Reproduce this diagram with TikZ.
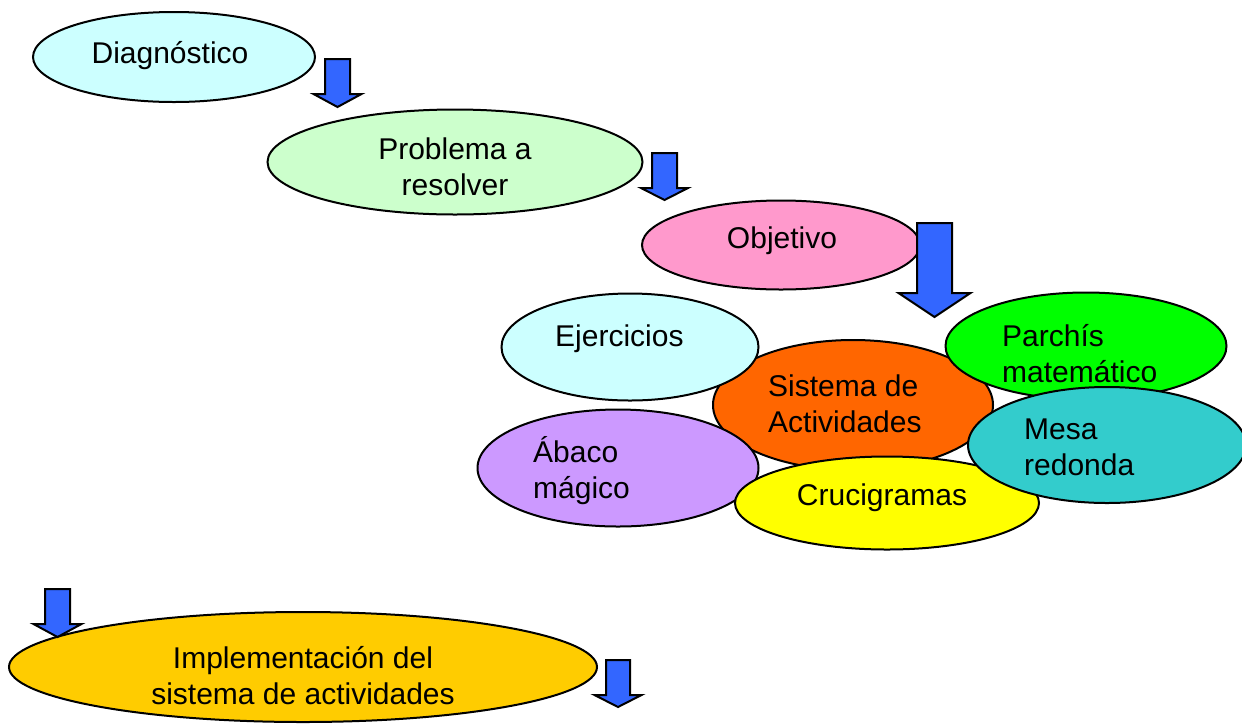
\documentclass[tikz,border=0pt]{standalone}
\usepackage{fontspec}
\setmainfont{Liberation Sans}
\usetikzlibrary{shapes.geometric}
\definecolor{palecyan}{HTML}{CCFFFF}
\definecolor{palegreen}{HTML}{CCFFCC}
\definecolor{rosa}{HTML}{FF99CC}
\definecolor{naranja}{HTML}{FF6600}
\definecolor{verde}{HTML}{00FF00}
\definecolor{turquesa}{HTML}{33CCCC}
\definecolor{lila}{HTML}{CC99FF}
\definecolor{amarillo}{HTML}{FFFF00}
\definecolor{oro}{HTML}{FFCC00}
\definecolor{azul}{HTML}{3366FF}

\begin{document}
\begin{tikzpicture}[x=1pt,y=-1pt,
  bubble/.style={draw,ellipse,line width=2pt,inner sep=0pt},
  txt/.style={font=\fontsize{30}{36}\selectfont,inner sep=0pt},
  blockarr/.style={draw,line width=2pt,fill=azul,line join=miter}]
\useasboundingbox (0,0) rectangle (1242,724);

\node[bubble,fill=palecyan,minimum width=282,minimum height=90] (diag) at (174,57) {};
\node[txt,anchor=base] (diag-t) at (170,63) {Diagnóstico};

\node[bubble,fill=palegreen,minimum width=375,minimum height=105] (prob) at (455,162) {};
\node[txt,align=center,anchor=base] (prob-t) at (455,195) {Problema a\\resolver};

\node[bubble,fill=rosa,minimum width=278,minimum height=89] (obj) at (781,245) {};
\node[txt,anchor=base] (obj-t) at (782,248) {Objetivo};

% sistema de actividades y sus actividades
\node[bubble,fill=naranja,minimum width=280,minimum height=130] (sist) at (853,405) {};
\node[txt,align=left,anchor=base west] (sist-t) at (768,432) {Sistema de\\Actividades};

\node[bubble,fill=palecyan,minimum width=257,minimum height=107] (ejer) at (630,347) {};
\node[txt,anchor=base west] (ejer-t) at (555,346) {Ejercicios};

\node[bubble,fill=lila,minimum width=281,minimum height=117] (abaco) at (618,468) {};
\node[txt,align=left,anchor=base west] (abaco-t) at (533,498) {Ábaco\\mágico};

\node[bubble,fill=verde,minimum width=281,minimum height=107] (parchis) at (1086,346) {};
\node[txt,align=left,anchor=base west] (parchis-t) at (1002,382) {Parchís\\matemático};

\node[bubble,fill=amarillo,minimum width=304,minimum height=93] (cruci) at (887,503) {};
\node[txt,anchor=base] (cruci-t) at (882,505) {Crucigramas};

\node[bubble,fill=turquesa,minimum width=278,minimum height=116] (mesa) at (1107,445) {};
\node[txt,align=left,anchor=base west] (mesa-t) at (1024,475) {Mesa\\redonda};

\node[bubble,fill=oro,minimum width=588,minimum height=110] (impl) at (303,667) {};
\node[txt,align=center,anchor=base] (impl-t) at (303,704) {Implementación del\\sistema de actividades};

% flechas
\foreach \cx/\sw/\hw/\ya/\yb/\yc in {337.5/12.5/24/59/94/107, 664.5/12.5/23.5/153/188/200,
    934.5/17.5/36/223/293/317, 57.5/12.5/24/589/624/637, 618/12/23.5/660/695/707}
  \path[blockarr] (\cx-\sw,\ya) -- (\cx+\sw,\ya) -- (\cx+\sw,\yb) -- (\cx+\hw,\yb)
    -- (\cx,\yc) -- (\cx-\hw,\yb) -- (\cx-\sw,\yb) -- cycle;
\end{tikzpicture}
\end{document}
